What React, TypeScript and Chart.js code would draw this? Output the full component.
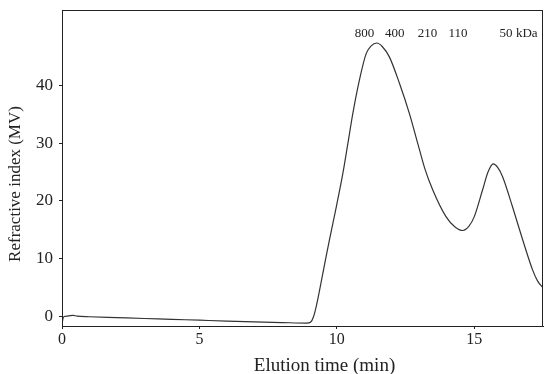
import React, { useEffect, useRef } from "react";
import { Chart, registerables } from "chart.js";

Chart.register(...registerables);

// Elution time (min)
const elutionTime = [
  0.0, 0.03, 0.08, 0.2, 0.4, 0.55, 1.0, 2.0, 3.0, 4.0, 5.0, 6.0, 7.0, 8.0, 8.9,
  9.05, 9.15, 9.25, 9.49, 9.73, 9.98, 10.22, 10.4, 10.58, 10.82, 11.07, 11.25,
  11.45, 11.65, 11.91, 12.28, 12.64, 12.94, 13.2, 13.49, 13.97, 14.3, 14.58,
  14.8, 15.0, 15.3, 15.5, 15.69, 15.85, 16.03, 16.39, 16.76, 17.12, 17.3, 17.5,
];
// Refractive index (MV)
const refractiveIndex = [
  -1.6, -0.4, 0.05, 0.12, 0.25, 0.1, 0.0, -0.15, -0.3, -0.45, -0.6, -0.75,
  -0.88, -1.0, -1.1, -0.9, 0.0, 1.8, 7.5, 13.3, 19.0, 24.8, 29.9, 35.1, 40.9,
  45.5, 46.8, 47.3, 46.7, 44.9, 40.3, 35.1, 30.0, 25.6, 21.9, 17.3, 15.5, 14.9,
  15.6, 17.3, 21.9, 25.0, 26.4, 25.8, 24.2, 19.0, 13.3, 8.1, 6.2, 5.0,
];

const xTicks = [0, 5, 10, 15];
const yTicks = [0, 10, 20, 30, 40];

// Molecular weight markers
const markerLabels = ["800", "400", "210", "110", "50"];
const markerTimes = [11.01, 12.11, 13.3, 14.41, 16.15];
const markerUnit = "kDa";
const markerLevel = 48.9;

const xTitle = "Elution time (min)";
const yTitle = "Refractive index (MV)";

const SERIF = "'Liberation Serif', 'Times New Roman', serif";
const INK = "#222";

const overlayPlugin = {
  id: "overlay",
  afterDraw(chart: any) {
    const { ctx, chartArea, scales } = chart;
    const { left, right, top, bottom } = chartArea;
    ctx.save();
    // frame
    ctx.strokeStyle = INK;
    ctx.lineWidth = 1;
    ctx.strokeRect(left + 0.5, top + 0.5, right - left - 1, bottom - top);
    // marker labels
    ctx.fillStyle = INK;
    ctx.font = `13px ${SERIF}`;
    ctx.textAlign = "center";
    ctx.textBaseline = "middle";
    const yPix = scales.y.getPixelForValue(markerLevel);
    markerLabels.forEach((lab, i) => {
      ctx.fillText(lab, scales.x.getPixelForValue(markerTimes[i]), yPix);
    });
    const lastX = scales.x.getPixelForValue(markerTimes[markerTimes.length - 1]);
    ctx.textAlign = "left";
    ctx.fillText(markerUnit, lastX + 10, yPix);
    // axis titles
    ctx.font = `19px ${SERIF}`;
    ctx.textAlign = "center";
    ctx.textBaseline = "alphabetic";
    ctx.fillText(xTitle, (left + right) / 2 + 22, 371);
    ctx.save();
    ctx.translate(20, (top + bottom) / 2 + 16);
    ctx.rotate(-Math.PI / 2);
    ctx.font = `17px ${SERIF}`;
    ctx.fillText(yTitle, 0, 0);
    ctx.restore();
    ctx.restore();
  },
};

export default function App() {
  const ref = useRef<HTMLCanvasElement | null>(null);
  useEffect(() => {
    if (!ref.current) return;
    const chart = new Chart(ref.current, {
      type: "line",
      data: {
        datasets: [
          {
            data: elutionTime.map((t, i) => ({ x: t, y: refractiveIndex[i] })),
            borderColor: "#333",
            borderWidth: 1.2,
            pointRadius: 0,
            cubicInterpolationMode: "monotone",
            fill: false,
          },
        ],
      },
      options: {
        animation: false,
        responsive: false,
        maintainAspectRatio: false,
        layout: { padding: { left: 0, right: 7, top: 10, bottom: 0 } },
        plugins: { legend: { display: false }, tooltip: { enabled: false } },
        scales: {
          x: {
            type: "linear",
            min: 0,
            max: 17.5,
            afterBuildTicks: (s: any) => {
              s.ticks = xTicks.map((v) => ({ value: v }));
            },
            afterFit: (s: any) => {
              s.height = 48;
              s.paddingLeft = 0;
              s.paddingRight = 0;
            },
            grid: { drawOnChartArea: false, drawTicks: true, tickLength: 3, color: INK },
            border: { display: true, color: INK, width: 1 },
            ticks: { color: INK, font: { family: SERIF, size: 16 }, padding: 1, maxRotation: 0 },
          },
          y: {
            type: "linear",
            min: -1.6,
            max: 53,
            afterBuildTicks: (s: any) => {
              s.ticks = yTicks.map((v) => ({ value: v }));
            },
            afterFit: (s: any) => {
              s.width = 62;
              s.paddingTop = 0;
              s.paddingBottom = 0;
            },
            grid: { drawOnChartArea: false, drawTicks: true, tickLength: 3, color: INK },
            border: { display: true, color: INK, width: 1 },
            ticks: { color: INK, font: { family: SERIF, size: 17 }, padding: 6 },
          },
        },
      },
      plugins: [overlayPlugin],
    });
    return () => chart.destroy();
  }, []);
  return (
    <div style={{ position: "fixed", left: 0, top: 0, width: 550, height: 374, background: "#fff" }}>
      <canvas ref={ref} width={550} height={374} />
    </div>
  );
}
